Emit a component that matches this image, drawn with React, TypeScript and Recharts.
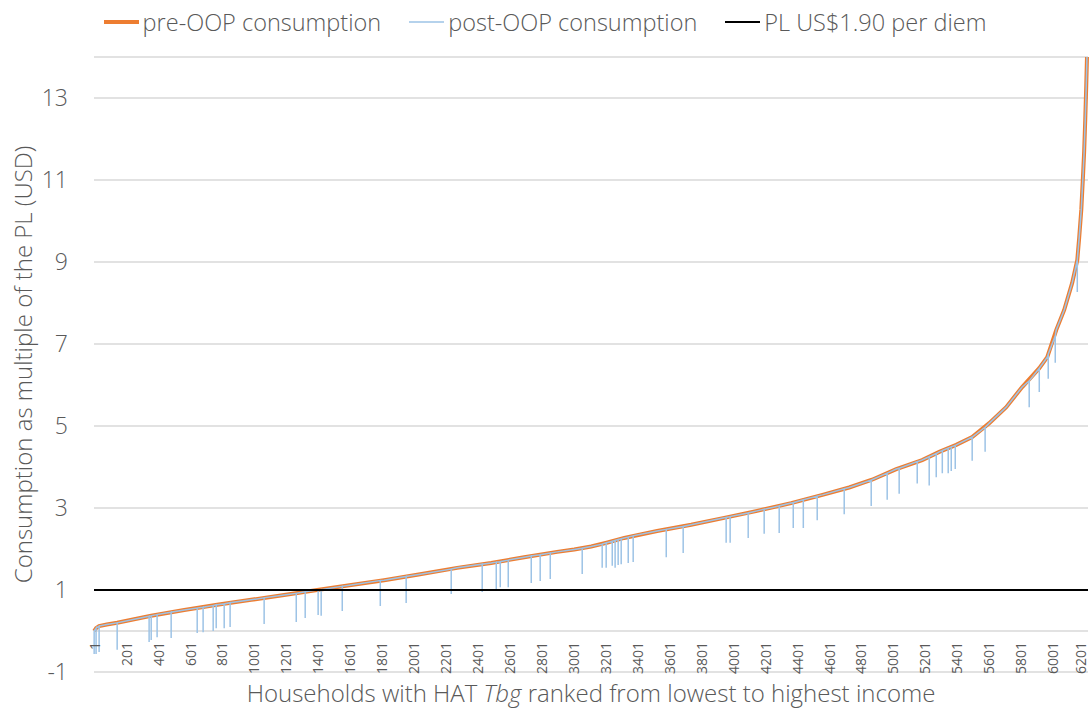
import { LineChart, Line, XAxis, YAxis, CartesianGrid, ReferenceLine, Legend, Label } from 'recharts'

// household rank (x) and pre-OOP consumption as a multiple of the PL (y)
const preRank = [1, 13, 32, 80, 145, 358, 565, 771, 984, 1190, 1397, 1610, 1816, 2023, 2273, 2486, 2693, 2899, 3006, 3112, 3215, 3319, 3525, 3738, 3945, 4151, 4364, 4560, 4727, 4870, 5022, 5184, 5291, 5397, 5497, 5604, 5710, 5810, 5917, 5967, 6023, 6073, 6123, 6155, 6167, 6180, 6192, 6198, 6205, 6211, 6217]
const preValue = [0.0, 0.07, 0.12, 0.16, 0.2, 0.37, 0.51, 0.64, 0.76, 0.88, 1.0, 1.12, 1.24, 1.37, 1.54, 1.66, 1.8, 1.93, 1.99, 2.06, 2.16, 2.27, 2.44, 2.59, 2.76, 2.93, 3.12, 3.32, 3.5, 3.69, 3.95, 4.17, 4.37, 4.54, 4.73, 5.07, 5.46, 5.95, 6.41, 6.68, 7.34, 7.83, 8.49, 9.05, 9.6, 10.27, 11.2, 11.7, 12.5, 13.3, 14.2]

// post-OOP dips: rank, level before the dip, level after paying OOP
const spikeRank = [1, 13, 32, 145, 345, 358, 395, 483, 646, 683, 746, 765, 815, 852, 1065, 1266, 1322, 1403, 1422, 1554, 1792, 1954, 2236, 2430, 2518, 2543, 2593, 2737, 2793, 2856, 3056, 3181, 3206, 3244, 3262, 3281, 3300, 3344, 3375, 3582, 3688, 3957, 3982, 4095, 4195, 4289, 4377, 4440, 4527, 4696, 4865, 4965, 5040, 5153, 5228, 5272, 5310, 5347, 5366, 5391, 5497, 5578, 5854, 5917, 5973, 6017, 6155]
const spikeTop = [0.0, 0.07, 0.12, 0.2, 0.36, 0.37, 0.4, 0.46, 0.56, 0.58, 0.62, 0.64, 0.66, 0.69, 0.81, 0.92, 0.96, 1.0, 1.01, 1.09, 1.23, 1.33, 1.51, 1.63, 1.68, 1.69, 1.73, 1.83, 1.86, 1.9, 2.02, 2.12, 2.15, 2.19, 2.21, 2.23, 2.25, 2.29, 2.32, 2.48, 2.55, 2.77, 2.79, 2.88, 2.97, 3.05, 3.13, 3.2, 3.29, 3.47, 3.68, 3.85, 3.97, 4.13, 4.25, 4.33, 4.4, 4.46, 4.49, 4.53, 4.73, 4.97, 6.1, 6.41, 6.75, 7.2, 9.05]
const spikeLow = [-0.56, -0.56, -0.51, -0.46, -0.27, -0.22, -0.15, -0.17, -0.05, -0.03, 0.0, 0.07, 0.07, 0.1, 0.17, 0.22, 0.32, 0.39, 0.37, 0.49, 0.61, 0.68, 0.9, 0.95, 1.02, 1.07, 1.07, 1.17, 1.22, 1.27, 1.39, 1.54, 1.54, 1.59, 1.54, 1.61, 1.63, 1.66, 1.68, 1.8, 1.9, 2.15, 2.15, 2.27, 2.37, 2.39, 2.51, 2.51, 2.7, 2.85, 3.05, 3.2, 3.35, 3.6, 3.55, 3.75, 3.85, 3.85, 3.9, 3.95, 4.15, 4.37, 5.46, 5.83, 6.15, 6.54, 8.27]

const plLevel = 1
const xTicks = [1, 201, 401, 601, 801, 1001, 1201, 1401, 1601, 1801, 2001, 2201, 2401, 2601, 2801, 3001, 3201, 3401, 3601, 3801, 4001, 4201, 4401, 4601, 4801, 5001, 5201, 5401, 5601, 5801, 6001, 6201]
const yTicks = [-1, 1, 3, 5, 7, 9, 11, 13]
const xDomain = [0, 6222]

const FONT = '"Open Sans", "Noto Sans", sans-serif'
const TEXT = '#595959'
const GRID = '#d9d9d9'

const series = [
  { name: 'pre-OOP consumption', color: '#ED7D31', width: 4 },
  { name: 'post-OOP consumption', color: '#9DC3E6', width: 1.5 },
  { name: 'PL US$1.90 per diem', color: '#000000', width: 2 },
]

const preData = preRank.map((r, i) => ({ rank: r, v: preValue[i] }))

const postData = [
  ...preData.map(p => ({ ...p, o: 0 })),
  ...spikeRank.flatMap((r, i) => [
    { rank: r, v: spikeTop[i], o: 1 },
    { rank: r, v: spikeLow[i], o: 2 },
    { rank: r, v: spikeTop[i], o: 3 },
  ]),
].sort((a, b) => a.rank - b.rank || a.o - b.o)

const plData = xDomain.map(r => ({ rank: r, v: plLevel }))

function XTick({ x, y, payload }: any) {
  // last label sits on the right edge, keep it inside the picture
  const cx = Math.min(x, 1080)
  const top = y - 30
  return (
    <text x={cx} y={top} transform={`rotate(-90, ${cx}, ${top})`} textAnchor="end"
      dominantBaseline="central" fill={TEXT} fontSize={14} fontFamily={FONT}>
      {payload.value}
    </text>
  )
}

function XTitle({ viewBox }: any) {
  return (
    <text x={viewBox.x + viewBox.width / 2} y={viewBox.y + viewBox.height - 8} textAnchor="middle"
      fill={TEXT} fontSize={24} fontWeight={300} fontFamily={FONT}>
      Households with HAT <tspan fontStyle="italic">Tbg</tspan> ranked from lowest to highest income
    </text>
  )
}

function LegendBox() {
  return (
    <div style={{ display: 'flex', justifyContent: 'center', alignItems: 'center', height: 30, fontFamily: FONT, fontSize: 23.5, color: TEXT, fontWeight: 300 }}>
      {series.map(s => (
        <div key={s.name} style={{ display: 'flex', alignItems: 'center', margin: '0 14px' }}>
          <svg width={35} height={10} style={{ marginRight: 4 }}>
            <line x1={0} y1={5} x2={35} y2={5} stroke={s.color} strokeWidth={s.width} />
          </svg>
          <span>{s.name}</span>
        </div>
      ))}
    </div>
  )
}

export default function App() {
  return (
    <div style={{ position: 'absolute', left: 0, top: 0, background: '#fff' }}>
      <LineChart width={1090} height={710} margin={{ top: 27, right: 2, bottom: 0, left: 0 }} style={{ fontFamily: FONT }}>
        <CartesianGrid horizontal vertical={false} stroke={GRID} strokeWidth={1.3} />
        <XAxis type="number" dataKey="rank" domain={xDomain} ticks={xTicks} interval={0}
          axisLine={false} tickLine={false} tickSize={0} tickMargin={0} height={38}
          tick={<XTick />} allowDuplicatedCategory={false}>
          <Label content={<XTitle />} />
        </XAxis>
        <YAxis type="number" domain={[-1, 14]} ticks={yTicks} allowDataOverflow width={94}
          axisLine={false} tickLine={false} tickSize={0} tickMargin={26}
          tick={{ fill: TEXT, fontSize: 23, fontWeight: 300 }}>
          <Label value="Consumption as multiple of the PL (USD)" angle={-90} position="center" dx={-24}
            fill={TEXT} fontSize={24} fontWeight={300} />
        </YAxis>
        <ReferenceLine y={0} stroke={GRID} strokeWidth={1.3} />
        <Legend verticalAlign="top" content={<LegendBox />} wrapperStyle={{ top: 7, left: 0, width: 1090 }} />
        <Line data={preData} dataKey="v" name={series[0].name} type="linear" stroke={series[0].color}
          strokeWidth={series[0].width} dot={false} activeDot={false} isAnimationActive={false} />
        <Line data={postData} dataKey="v" name={series[1].name} type="linear" stroke={series[1].color}
          strokeWidth={series[1].width} dot={false} activeDot={false} isAnimationActive={false} />
        <Line data={plData} dataKey="v" name={series[2].name} type="linear" stroke={series[2].color}
          strokeWidth={series[2].width} dot={false} activeDot={false} isAnimationActive={false} />
      </LineChart>
    </div>
  )
}
